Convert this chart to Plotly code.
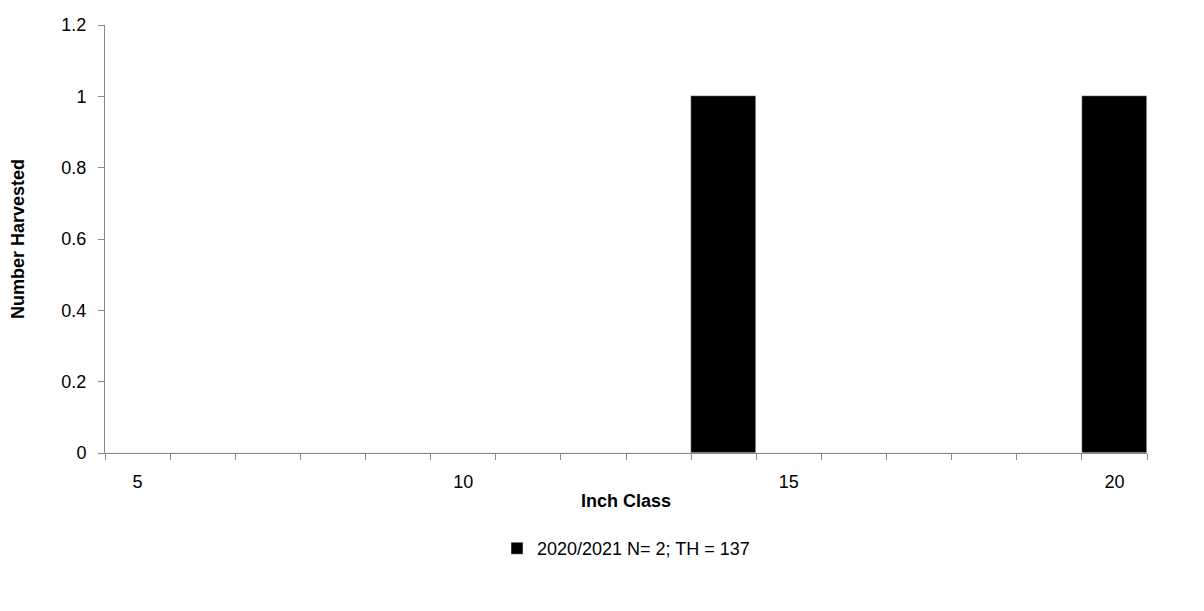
import plotly.graph_objects as go

inch_class = list(range(5, 21))
harvested = [0]*9 + [1] + [0]*5 + [1]
series_name = "2020/2021 N= 2; TH = 137"
label_vals = [5, 10, 15, 20]

fig = go.Figure()
fig.add_trace(go.Bar(x=inch_class, y=harvested, name=series_name, marker_color="black", width=1.0, showlegend=True))
fig.add_trace(go.Scatter(x=label_vals, y=[None]*4, xaxis="x2", showlegend=False, hoverinfo="skip"))
fig.update_layout(
    width=1204, height=611, plot_bgcolor="white", paper_bgcolor="white",
    margin=dict(l=97, r=65, t=17, b=166, autoexpand=False),
    font=dict(family="Liberation Sans, Arial", size=18, color="black"),
    bargap=0,
    xaxis=dict(range=[4.5, 20.5], tickvals=[v + 0.5 for v in range(4, 21)], ticktext=[""]*17,
               ticks="outside", ticklen=6, tickcolor="#888", showline=True, linecolor="#888",
               showgrid=False, zeroline=False, automargin=False,
               title=dict(text="<b>Inch Class</b>", font=dict(size=18), standoff=31)),
    xaxis2=dict(range=[4.5, 20.5], overlaying="x", side="bottom", tickvals=label_vals,
                ticks="", showgrid=False, showline=False, zeroline=False, tickfont=dict(size=18),
                automargin=False, ticklabelstandoff=16),
    yaxis=dict(range=[0, 1.2], dtick=0.2, tickformat="~g", ticks="outside", ticklen=6, tickcolor="#888",
               showline=True, linecolor="#888", showgrid=False, zeroline=False, automargin=False,
               ticklabelstandoff=8,
               title=dict(text="<b>Number Harvested</b>", font=dict(size=18), standoff=40)),
    legend=dict(orientation="h", x=0.5, xanchor="center", y=-0.18, yanchor="top", font=dict(size=18)),
)
fig.write_html("out.html")
